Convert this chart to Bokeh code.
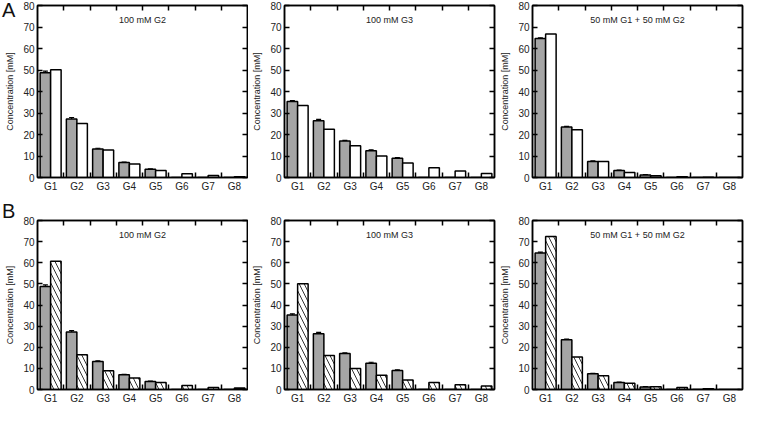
from bokeh.plotting import figure
from bokeh.models import (ColumnDataSource, Range1d, LinearAxis, FixedTicker,
                          Whisker, Label, TeeHead, GridBox, Div)
from bokeh.transform import dodge
from bokeh.embed import file_html
from bokeh.resources import INLINE

categories = ["G1", "G2", "G3", "G4", "G5", "G6", "G7", "G8"]
y_ticks = [0, 10, 20, 30, 40, 50, 60, 70, 80]

# experimental (gray) values and error bars
exp_g2 = [48.7, 27.2, 13.3, 7.0, 3.8, 0.0, 0.0, 0.0]
err_g2 = [0.8, 0.7, 0.3, 0.2, 0.2, 0.0, 0.0, 0.0]
exp_g3 = [35.3, 26.4, 17.0, 12.4, 9.0, 0.0, 0.0, 0.0]
err_g3 = [0.5, 0.6, 0.3, 0.5, 0.3, 0.0, 0.0, 0.0]
exp_g1g2 = [64.6, 23.5, 7.5, 3.3, 1.2, 0.0, 0.0, 0.0]
err_g1g2 = [0.4, 0.3, 0.2, 0.2, 0.2, 0.0, 0.0, 0.0]

# panel A model (white bars)
modA_g2 = [50.1, 25.1, 12.8, 6.3, 3.3, 1.8, 0.9, 0.4]
modA_g3 = [33.5, 22.4, 14.8, 10.0, 6.8, 4.5, 3.0, 1.9]
modA_g1g2 = [66.7, 22.2, 7.5, 2.3, 0.8, 0.4, 0.1, 0.0]

# panel B model (hatched bars)
modB_g2 = [60.7, 16.5, 8.9, 5.5, 3.3, 1.9, 1.0, 0.7]
modB_g3 = [50.1, 16.1, 10.0, 6.7, 4.5, 3.3, 2.2, 1.6]
modB_g1g2 = [72.4, 15.4, 6.5, 3.0, 1.3, 1.0, 0.4, 0.0]

titles = ["100 mM G2", "100 mM G3", "50 mM G1 + 50 mM G2"]
panel_letters = ["A", "B"]

FONT = "Liberation Sans"
GRAY = "#a5a5a5"
W = 248
YMAX = 80


def make_panel(title, exp, err, model, hatched, height, btop, bbot, bleft, bright):
    n = len(categories)
    xs = list(range(1, n + 1))
    src = ColumnDataSource(dict(x=xs, exp=exp, model=model))
    p = figure(width=W, height=height, output_backend="svg", toolbar_location=None,
               x_range=Range1d(0.5, n + 0.5), y_range=Range1d(0, YMAX),
               x_axis_location=None, y_axis_location=None,
               min_border_left=bleft, min_border_right=bright,
               min_border_top=btop, min_border_bottom=bbot)
    p.grid.visible = False
    p.outline_line_color = "black"
    p.outline_line_width = 1.5
    p.background_fill_color = "white"
    p.border_fill_color = "white"

    boundaries = [v + 0.5 for v in xs[:-1]]
    bottom = LinearAxis(ticker=FixedTicker(ticks=xs, minor_ticks=boundaries),
                        major_label_overrides={v: c for v, c in zip(xs, categories)})
    top = LinearAxis(ticker=FixedTicker(ticks=[], minor_ticks=boundaries))
    left = LinearAxis(ticker=FixedTicker(ticks=y_ticks, minor_ticks=[]),
                      axis_label="Concentration [mM]")
    right = LinearAxis(ticker=FixedTicker(ticks=[], minor_ticks=y_ticks))
    for ax in (bottom, top, left, right):
        ax.major_tick_in = 0
        ax.major_tick_out = 0
        ax.minor_tick_in = 5
        ax.minor_tick_out = 0
        ax.axis_line_color = "black"
        ax.axis_line_width = 1.5
        ax.major_tick_line_color = "black"
        ax.minor_tick_line_color = "black"
        ax.major_tick_line_width = 1.5
        ax.minor_tick_line_width = 1.5
        ax.major_label_text_font = FONT
        ax.major_label_text_color = "#222222"
        ax.major_label_text_font_size = "10px"
        ax.major_label_standoff = 3
    left.major_tick_in = 5
    left.minor_tick_in = 0
    top.major_label_standoff = 0
    right.major_label_standoff = 0
    left.axis_label_text_font = FONT
    left.axis_label_text_font_size = "9px"
    left.axis_label_text_font_style = "normal"
    left.axis_label_text_color = "#222222"
    left.axis_label_standoff = 5
    p.add_layout(bottom, "below")
    p.add_layout(top, "above")
    p.add_layout(left, "left")
    p.add_layout(right, "right")

    p.vbar(x=dodge("x", -0.2), top="exp", width=0.4, source=src,
           fill_color=GRAY, line_color="black", line_width=1.5)
    if hatched:
        p.vbar(x=dodge("x", 0.2), top="model", width=0.4, source=src,
               fill_color="white", line_color="black", line_width=1.5,
               hatch_pattern="left_diagonal_line", hatch_color="black",
               hatch_scale=10, hatch_weight=0.8)
    else:
        p.vbar(x=dodge("x", 0.2), top="model", width=0.4, source=src,
               fill_color="white", line_color="black", line_width=1.5)

    ex = [x for x, e in zip(xs, err) if e > 0]
    ev = [v for v, e in zip(exp, err) if e > 0]
    ee = [e for e in err if e > 0]
    esrc = ColumnDataSource(dict(x=ex, lo=[v - e for v, e in zip(ev, ee)],
                                 hi=[v + e for v, e in zip(ev, ee)]))
    wh = Whisker(source=esrc, base=dodge("x", -0.2), upper="hi", lower="lo",
                 line_color="black", line_width=1.2,
                 upper_head=TeeHead(size=5, line_color="black", line_width=1.2),
                 lower_head=TeeHead(size=5, line_color="black", line_width=1.2))
    p.add_layout(wh)

    p.add_layout(Label(x=(n + 1) / 2, y=YMAX * 0.915, text=title,
                       text_align="center", text_baseline="middle",
                       text_font=FONT, text_font_size="9px", text_color="#222222"))
    return p


def letter_div(letter, pad_top):
    return Div(text=letter, width=18, height=24, margin=0,
               styles={"font-family": FONT, "font-size": "20px", "color": "#111111",
                       "line-height": "20px", "padding-left": "2px",
                       "padding-top": f"{pad_top}px", "z-index": "10"})


exps = [exp_g2, exp_g3, exp_g1g2]
errs = [err_g2, err_g3, err_g1g2]
modA = [modA_g2, modA_g3, modA_g1g2]
modB = [modB_g2, modB_g3, modB_g1g2]
lefts = [37, 36, 36]
rights = [1, 2, 2]

children = []
for i in range(3):
    children.append((make_panel(titles[i], exps[i], errs[i], modA[i], False,
                                198, 5, 21, lefts[i], rights[i]), 0, i))
for i in range(3):
    children.append((make_panel(titles[i], exps[i], errs[i], modB[i], True,
                                208, 22, 15, lefts[i], rights[i]), 1, i))
children.append((letter_div(panel_letters[0], 0), 0, 0))
children.append((letter_div(panel_letters[1], 3), 1, 0))

layout = GridBox(children=children, spacing=0)
open("out.html", "w").write(file_html(layout, INLINE))
